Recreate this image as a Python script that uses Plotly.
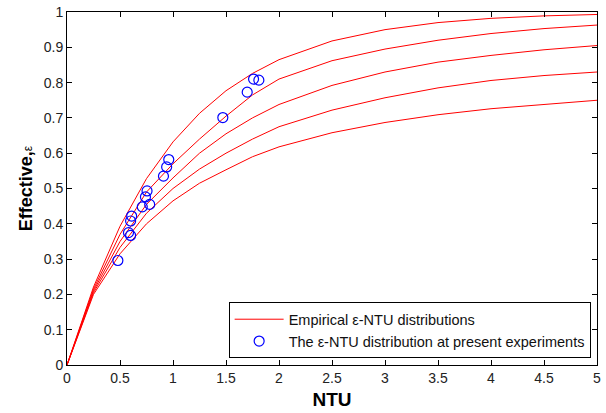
import plotly.graph_objects as go

# NTU grid at which the empirical curves were read
ntu = [0, 0.25, 0.5, 0.75, 1.0, 1.25, 1.5, 1.75, 2.0, 2.5, 3.0, 3.5, 4.0, 4.5, 5.0]
curve_1 = [0, 0.221, 0.393, 0.528, 0.632, 0.713, 0.777, 0.826, 0.865, 0.918, 0.950, 0.970, 0.982, 0.989, 0.993]
curve_2 = [0, 0.215, 0.370, 0.490, 0.570, 0.640, 0.705, 0.765, 0.810, 0.862, 0.895, 0.920, 0.939, 0.953, 0.963]
curve_3 = [0, 0.210, 0.350, 0.455, 0.530, 0.600, 0.655, 0.700, 0.738, 0.792, 0.830, 0.858, 0.877, 0.893, 0.905]
curve_4 = [0, 0.205, 0.333, 0.430, 0.500, 0.555, 0.600, 0.640, 0.675, 0.722, 0.757, 0.785, 0.806, 0.820, 0.830]
curve_5 = [0, 0.200, 0.315, 0.400, 0.465, 0.515, 0.553, 0.590, 0.618, 0.658, 0.687, 0.709, 0.726, 0.739, 0.750]
curves = [curve_1, curve_2, curve_3, curve_4, curve_5]

# present experiments
exp_ntu = [0.48, 0.58, 0.60, 0.60, 0.61, 0.71, 0.74, 0.755, 0.78, 0.91, 0.94, 0.96, 1.47, 1.70, 1.76, 1.81]
exp_eff = [0.296, 0.375, 0.367, 0.408, 0.422, 0.448, 0.476, 0.493, 0.455, 0.535, 0.561, 0.582, 0.701, 0.773, 0.810, 0.807]

x_ticks = [0, 0.5, 1, 1.5, 2, 2.5, 3, 3.5, 4, 4.5, 5]
x_labels = ["0", "0.5", "1", "1.5", "2", "2.5", "3", "3.5", "4", "4.5", "5"]
y_ticks = [0, 0.1, 0.2, 0.3, 0.4, 0.5, 0.6, 0.7, 0.8, 0.9, 1]
y_labels = ["0", "0.1", "0.2", "0.3", "0.4", "0.5", "0.6", "0.7", "0.8", "0.9", "1"]

FONT = "Arial, Liberation Sans, sans-serif"

fig = go.Figure()
for i, c in enumerate(curves):
    fig.add_trace(go.Scatter(
        x=ntu, y=c, mode="lines",
        line=dict(color="#ff0000", width=1),
        name="Empirical ε-NTU distributions",
        showlegend=(i == 0), legendgroup="emp",
    ))
fig.add_trace(go.Scatter(
    x=exp_ntu, y=exp_eff, mode="markers",
    marker=dict(symbol="circle-open", size=10, color="#0000ff", line=dict(width=1.2, color="#0000ff")),
    name="The ε-NTU distribution at present experiments",
))

axis_common = dict(
    showgrid=False, zeroline=False, showline=True, linecolor="black", linewidth=1,
    mirror="ticks", ticks="inside", ticklen=5, tickcolor="black", tickwidth=1,
    tickfont=dict(family=FONT, size=14, color="#222222"),
    automargin=False, ticklabeloverflow="allow",
)

fig.update_layout(
    width=606, height=413,
    margin=dict(l=67, r=9, t=12, b=48),
    paper_bgcolor="white", plot_bgcolor="white",
    font=dict(family=FONT, color="black"),
    xaxis=dict(range=[0, 5], tickvals=x_ticks, ticktext=x_labels,
               title=dict(text="<b>NTU</b>", font=dict(family=FONT, size=19), standoff=7),
               **axis_common),
    yaxis=dict(range=[0, 1], tickvals=y_ticks, ticktext=y_labels,
               title=dict(text="<b>Effective,</b><span style='font-size:12px'>ε</span>",
                          font=dict(family=FONT, size=18), standoff=6),
               **axis_common),
    legend=dict(x=0.988, y=0.019, xanchor="right", yanchor="bottom",
                bgcolor="white", bordercolor="black", borderwidth=1,
                font=dict(family=FONT, size=14.5, color="#111111"),
                tracegroupgap=0, itemwidth=49),
    showlegend=True,
)

# remove the default page margin so the figure fills the window exactly
fig.write_html("out.html", config={"displayModeBar": False},
               post_script="document.body.style.margin='0';")
